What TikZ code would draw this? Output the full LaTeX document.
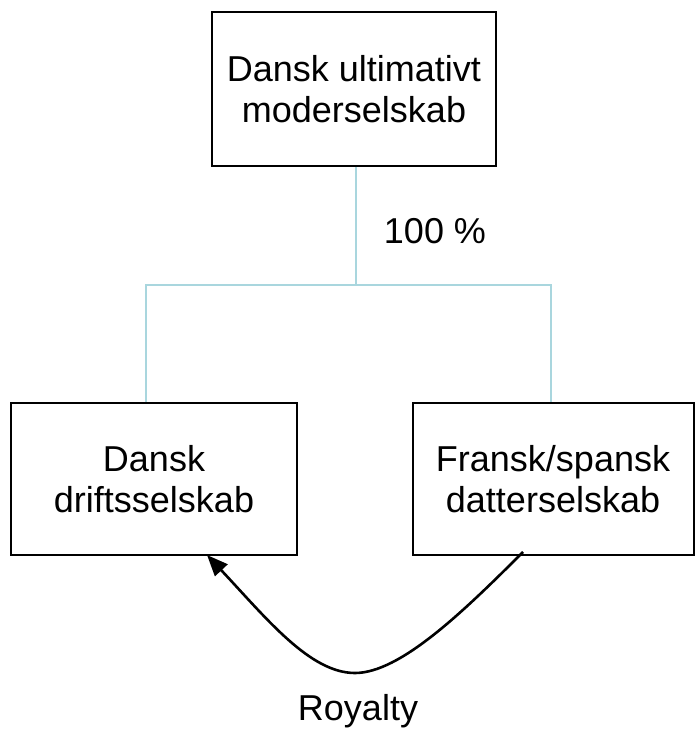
\documentclass[tikz,border=0pt]{standalone}
\usepackage{fontspec}
\setmainfont{Liberation Sans}
\usetikzlibrary{arrows.meta}
\definecolor{linkblue}{HTML}{A9D6DE}
\tikzset{
  company/.style={draw=black, line width=2pt, fill=white, align=center,
    inner sep=0pt, font=\fontsize{36}{41}\selectfont},
  link/.style={draw=linkblue, line width=2pt},
  caption/.style={anchor=base, inner sep=0pt, font=\fontsize{36}{41}\selectfont},
  royalty/.style={draw=black, line width=2.6pt,
    -{Triangle[length=21pt,width=17pt]}}
}
\begin{document}
\begin{tikzpicture}[x=1pt, y=-1pt]
\useasboundingbox (0,0) rectangle (695,730);

% parent company and the two subsidiaries
\node[company, minimum width=284pt, minimum height=154pt] (top) at (354,89)
  {Dansk ultimativt\\moderselskab};
\node[company, minimum width=286pt, minimum height=152pt] (left) at (154,479)
  {Dansk\\driftsselskab};
\node[company, minimum width=281pt, minimum height=152pt] (right) at (553,479)
  {Fransk/spansk\\datterselskab};

% ownership tree
\coordinate (bus) at (356,285);
\coordinate (dl) at ([xshift=-8pt]left.north);
\coordinate (dr) at ([xshift=-2pt]right.north);
\draw[link] ([xshift=2pt]top.south) -- ([xshift=2pt]top.south |- bus);
\draw[link] (dl) -- (dl |- bus) -- (dr |- bus) -- (dr);
\node[caption] (share) at (435,243) {100 \%};

% royalty payment
\coordinate (rs) at (523,552);
\coordinate (rb) at (355,673);
\coordinate (rt) at (207,555);
\draw[royalty] (rs) .. controls (463,612) and (400,673) .. (rb)
  .. controls (310,673) and (267,619) .. (rt);
\node[caption] (roy) at (358,720) {Royalty};
\end{tikzpicture}
\end{document}
